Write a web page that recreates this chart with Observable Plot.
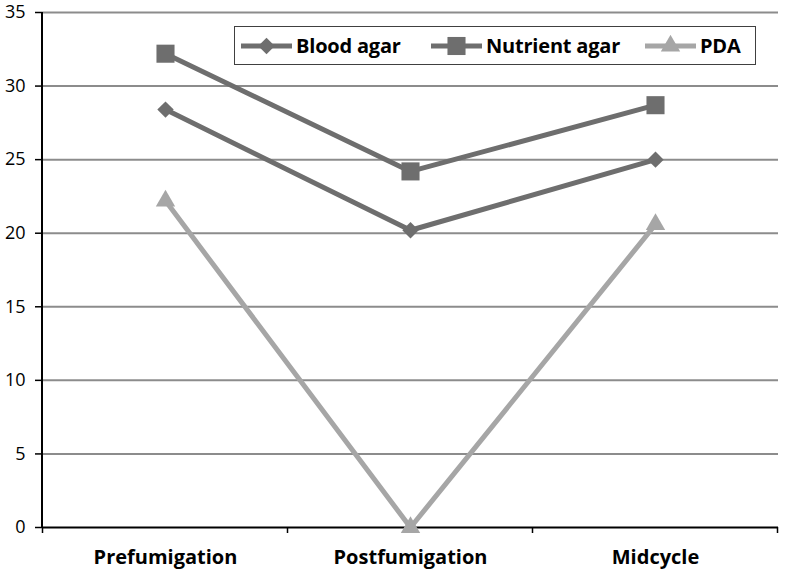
<!DOCTYPE html>
<html><head><meta charset="utf-8">
<script src="https://cdn.jsdelivr.net/npm/d3@7"></script>
<script src="https://cdn.jsdelivr.net/npm/@observablehq/plot@0.6"></script>
<style>
body{margin:0;background:#fff;}
#wrap{position:relative;width:786px;height:570px;font-family:"Open Sans",sans-serif;}
#legend{position:absolute;left:234px;top:26px;width:520px;height:37px;border:1.5px solid #404040;background:#fff;}
.item{position:absolute;top:0;height:37px;display:flex;align-items:center;font-weight:bold;font-size:20px;color:#000;white-space:nowrap;letter-spacing:-0.2px;}
.item svg{margin-right:4px;}
</style></head><body><div id="wrap"></div>
<script>
const categories = ["Prefumigation", "Postfumigation", "Midcycle"];
const bloodAgar = [28.4, 20.2, 25.0];
const nutrientAgar = [32.2, 24.2, 28.7];
const pda = [22.2, 0, 20.6];
const yTicks = [0, 5, 10, 15, 20, 25, 30, 35];
const seriesNames = ["Blood agar", "Nutrient agar", "PDA"];
const seriesColors = ["#6e6e6e", "#6e6e6e", "#a6a6a6"];
const seriesSymbols = ["diamond2", "square", "triangle"];

const rows = [];
[bloodAgar, nutrientAgar, pda].forEach((vals, s) =>
  vals.forEach((v, i) => rows.push({series: seriesNames[s], cat: categories[i], value: v})));

const W = 786, H = 570, mt = 12, mb = 43, ml = 42, mr = 8;

const chart = Plot.plot({
  width: W, height: H, marginTop: mt, marginBottom: mb, marginLeft: ml, marginRight: mr,
  style: {fontFamily: "Open Sans, sans-serif", background: "#fff", color: "#000", fontSize: "18px"},
  x: {type: "point", domain: categories, padding: 0.5},
  y: {domain: [0, 35]},
  color: {domain: seriesNames, range: seriesColors},
  symbol: {domain: seriesNames, range: seriesSymbols},
  marks: [
    Plot.ruleY(yTicks.filter(d => d > 0), {stroke: "#8c8c8c", strokeWidth: 2}),
    Plot.axisY({ticks: yTicks, tickSize: 7, tickPadding: 10, label: null, stroke: "#000", strokeWidth: 1.5}),
    Plot.axisX({tickSize: 0, tickPadding: 22, fontWeight: "bold", label: null}),
    Plot.ruleY([0], {stroke: "#000", strokeWidth: 2}),
    Plot.line(rows, {x: "cat", y: "value", z: "series", stroke: "series", strokeWidth: 5}),
    Plot.dot(rows.filter(d => d.series === "Blood agar"), {x: "cat", y: "value", symbol: "series", fill: "series", r: 7.4}),
    Plot.dot(rows.filter(d => d.series === "Nutrient agar"), {x: "cat", y: "value", symbol: "series", fill: "series", r: 10.2}),
    Plot.dot(rows.filter(d => d.series === "PDA"), {x: "cat", y: "value", symbol: "series", fill: "series", r: 7.2})
  ]
});

const svg = d3.select(chart);
svg.selectAll('[aria-label="y-axis tick label"]').attr("font-size", 18);
svg.selectAll('[aria-label="y-axis tick label"] text').attr("font-size", 18);
svg.selectAll('[aria-label="x-axis tick label"]').attr("font-size", 20).attr("font-weight", "bold");
svg.selectAll('[aria-label="x-axis tick label"] text').attr("font-size", 20).attr("font-weight", "bold");

// axis lines and category boundary ticks, positioned from the chart's own scales
const xs = chart.scale("x"), ys = chart.scale("y");
const centers = categories.map(c => xs.apply(c));
const step = centers[1] - centers[0];
const bounds = [centers[0] - step / 2, ...centers.map(c => c + step / 2)];
svg.append("line").attr("x1", ml).attr("x2", ml).attr("y1", ys.apply(35)).attr("y2", ys.apply(0))
  .attr("stroke", "#000").attr("stroke-width", 2);
svg.selectAll("line.bt").data(bounds).join("line").attr("class", "bt")
  .attr("x1", d => d).attr("x2", d => d).attr("y1", ys.apply(0)).attr("y2", ys.apply(0) + 6)
  .attr("stroke", "#000").attr("stroke-width", 1.5);

const wrap = document.getElementById("wrap");
wrap.appendChild(chart);

// legend
const legend = document.createElement("div");
legend.id = "legend";
wrap.appendChild(legend);
const d3sym = {diamond2: [d3.symbolDiamond2, 7.4], square: [d3.symbolSquare, 10.2], triangle: [d3.symbolTriangle, 7.2]};
const itemLeft = [6, 196, 410];
seriesNames.forEach((name, i) => {
  const it = document.createElement("div");
  it.className = "item";
  it.style.left = itemLeft[i] + "px";
  const [sym, r] = d3sym[seriesSymbols[i]];
  const path = d3.symbol(sym, Math.PI * r * r)();
  it.innerHTML = `<svg width="51" height="22"><line x1="0" x2="51" y1="11" y2="11" stroke="${seriesColors[i]}" stroke-width="5"/><path transform="translate(25.5,11)" d="${path}" fill="${seriesColors[i]}"/></svg><span>${name}</span>`;
  legend.appendChild(it);
});
</script></body></html>
